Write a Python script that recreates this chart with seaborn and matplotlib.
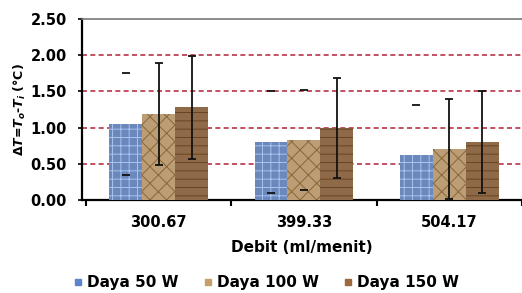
import matplotlib
matplotlib.use("Agg")
import matplotlib.pyplot as plt
from matplotlib.lines import Line2D
import seaborn as sns
import pandas as pd
import numpy as np

# ---- data ----
categories = ["300.67", "399.33", "504.17"]
series_names = ["Daya 50 W", "Daya 100 W", "Daya 150 W"]
daya50 = [1.05, 0.80, 0.62]
daya100 = [1.19, 0.83, 0.71]
daya150 = [1.28, 1.00, 0.80]
err50 = [0.70, 0.70, 0.69]
err100 = [0.70, 0.69, 0.69]
err150 = [0.71, 0.69, 0.70]
yticks = [0.0, 0.5, 1.0, 1.5, 2.0, 2.5]

sns.set_style("white")
plt.rcParams["font.family"] = ["DejaVu Sans"]
plt.rcParams["font.weight"] = "bold"
plt.rcParams["text.color"] = "black"
plt.rcParams["axes.labelcolor"] = "black"
plt.rcParams["xtick.color"] = "black"
plt.rcParams["ytick.color"] = "black"
plt.rcParams["mathtext.fontset"] = "custom"
plt.rcParams["mathtext.rm"] = "DejaVu Sans:bold"
plt.rcParams["mathtext.it"] = "DejaVu Sans:italic:bold"
plt.rcParams["mathtext.bf"] = "DejaVu Sans:bold"
plt.rcParams["hatch.linewidth"] = 0.7

df = pd.DataFrame({
    "Debit": categories * 3,
    "Daya": [s for s in series_names for _ in categories],
    "dT": daya50 + daya100 + daya150,
})
errs = [err50, err100, err150]

face = ["#5d84cb", "#c6a06a", "#9a6a3c"]
hatch_col = ["#a9c2ee", "#8a6535", "#6a4322"]
hatches = ["++", "xx", "--"]

fig = plt.figure(figsize=(5.22, 2.93), dpi=100)
ax = fig.add_axes([82 / 522, 1 - 200 / 293, 1 - 82 / 522, (200 - 19) / 293])

sns.barplot(data=df, x="Debit", y="dT", hue="Daya", order=categories,
            hue_order=series_names, palette=face, width=0.68, legend=False,
            ax=ax, zorder=3, errorbar=None)

# texture-like hatching and error bars
for h in range(3):
    for i in range(3):
        p = ax.patches[h * 3 + i]
        p.set_hatch(hatches[h])
        p.set_edgecolor(hatch_col[h])
        p.set_linewidth(0)
        xc = p.get_x() + p.get_width() / 2
        yv = p.get_height()
        caps_only = (h == 0) or (h == 1 and i == 1)
        ax.errorbar(xc, yv, yerr=errs[h][i], fmt="none", ecolor="#111111",
                    elinewidth=0 if caps_only else 1.3, capsize=3,
                    capthick=1.3, zorder=5)

ax.set_ylim(0, 2.5)
ax.set_xlim(-0.527, 2.466)
ax.set_yticks(yticks)
ax.set_yticklabels([f"{v:.2f}" for v in yticks], fontsize=10.5, fontweight="bold")
for v in yticks[1:-1]:
    ax.axhline(v, color="#b83448", lw=1.2, ls=(0, (3, 2)), zorder=1)

# x ticks: marks between groups, labels centered
ax.set_xticks([-0.5, 0.5, 1.5, 2.5])
ax.set_xticklabels([])
ax.set_xticks([0, 1, 2], minor=True)
ax.set_xticklabels(categories, minor=True, fontsize=10.5, fontweight="bold")
ax.tick_params(axis="x", which="major", length=4, width=1.5, direction="out", bottom=True)
ax.tick_params(axis="x", which="minor", length=0, pad=11)
ax.tick_params(axis="y", length=3, width=1.2, direction="out", left=True, pad=8)

for s in ["left", "bottom"]:
    ax.spines[s].set_color("black")
    ax.spines[s].set_linewidth(1.6)
ax.spines["top"].set_color("#777777")
ax.spines["top"].set_linewidth(1.2)
ax.spines["right"].set_visible(False)

ax.set_xlabel("Debit (ml/menit)", fontsize=11, fontweight="bold", labelpad=7)
ax.set_ylabel(r"$\Delta T$=$T_o$-$T_i$ (°C)", fontsize=9, fontweight="bold", labelpad=2)

handles = [Line2D([], [], marker="s", ls="none", markersize=5,
                  markerfacecolor=face[k], markeredgecolor=face[k]) for k in range(3)]
fig.legend(handles, series_names, loc="center", bbox_to_anchor=(0.51, 0.035),
           ncol=3, frameon=False, handlelength=0.6, handletextpad=0.3,
           columnspacing=1.6, prop={"size": 11, "weight": "bold"})

fig.savefig("out.png", dpi=100)
